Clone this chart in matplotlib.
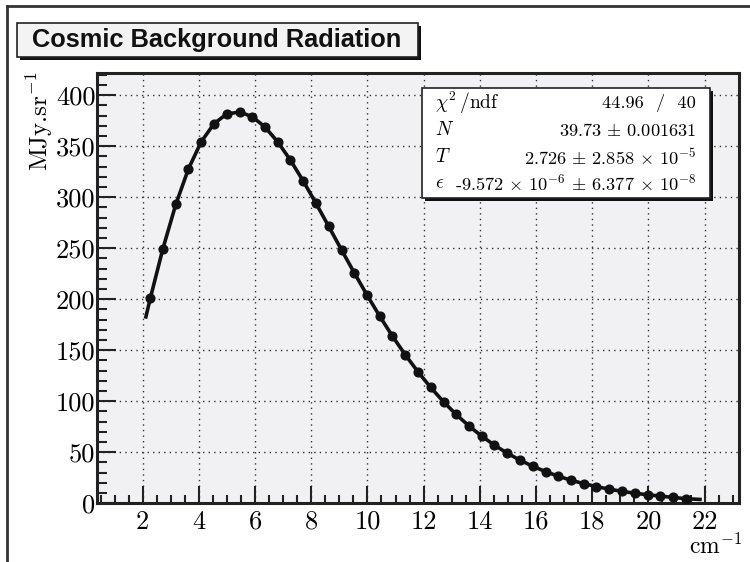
import numpy as np
import matplotlib
matplotlib.use("Agg")
import matplotlib.pyplot as plt
from matplotlib.patches import Rectangle
from matplotlib.lines import Line2D
from matplotlib.ticker import MultipleLocator

# FIRAS monopole spectrum
freq = [2.27, 2.72, 3.18, 3.63, 4.08, 4.54, 4.99, 5.45, 5.90, 6.35, 6.81, 7.26,
        7.71, 8.17, 8.62, 9.08, 9.53, 9.98, 10.44, 10.89, 11.34, 11.80, 12.25,
        12.71, 13.16, 13.61, 14.07, 14.52, 14.97, 15.43, 15.88, 16.34, 16.79,
        17.24, 17.70, 18.15, 18.61, 19.06, 19.51, 19.97, 20.42, 20.87, 21.33]
intensity = [200.723, 249.508, 293.024, 327.770, 354.081, 372.079, 381.493,
             383.478, 378.901, 368.833, 354.063, 336.278, 316.076, 293.924,
             271.432, 248.239, 225.940, 204.327, 183.262, 163.830, 145.750,
             128.835, 113.568, 99.451, 87.036, 75.876, 65.766, 57.008, 49.223,
             42.267, 36.352, 31.062, 26.580, 22.644, 19.255, 16.391, 13.811,
             11.716, 9.921, 8.364, 7.087, 5.801, 4.523]

# fitted curve: data points plus the curve ends
fit_x = [2.1] + freq + [21.9]
fit_y = [181.0] + intensity + [3.7]

stat_names = [r"$\chi^{2}\,/\mathrm{ndf}$", r"$N$", r"$T$", r"$\epsilon$"]
stat_values = [r"44.96  /  40",
               r"39.73$\,\pm\,$0.001631",
               r"2.726$\,\pm\,$2.858$\,\times\,$10$^{\mathrm{-5}}$",
               r"-9.572$\,\times\,$10$^{\mathrm{-6}}$$\,\pm\,$6.377$\,\times\,$10$^{\mathrm{-8}}$"]

plt.rcParams["mathtext.fontset"] = "cm"
plt.rcParams["font.family"] = ["cmr10", "DejaVu Sans"]
plt.rcParams["axes.formatter.use_mathtext"] = True

W, H = 750, 562
fig = plt.figure(figsize=(7.5, 5.62), dpi=100)
fig.patch.set_facecolor("white")

# canvas frame (top and left edges)
fig.add_artist(Line2D([7 / W, 1], [1 - 6 / H, 1 - 6 / H], color="#333333", lw=2))
fig.add_artist(Line2D([7 / W, 7 / W], [0, 1 - 6 / H], color="#333333", lw=2))

ax = fig.add_axes([96.7 / W, 1 - 503.3 / H, 642.6 / W, 430 / H])
ax.set_facecolor("#f1f1f3")
ax.plot(fit_x, fit_y, color="#111111", lw=2.6, zorder=3, solid_capstyle="butt")
ax.plot(freq, intensity, "o", color="#111111", ms=6.3, zorder=4)

ax.set_xlim(0.364, 23.236)
ax.set_ylim(0, 421.4)
ax.xaxis.set_major_locator(MultipleLocator(2))
ax.xaxis.set_minor_locator(MultipleLocator(0.5))
ax.yaxis.set_major_locator(MultipleLocator(50))
ax.yaxis.set_minor_locator(MultipleLocator(10))
ax.tick_params(which="both", direction="in", top=False, right=False,
               color="#222222", width=1.5, labelsize=19)
ax.tick_params(which="major", length=12, pad=5)
ax.tick_params(which="minor", length=6)
ax.tick_params(axis="y", which="major", length=14, pad=1)
ax.tick_params(axis="y", which="minor", length=7)
xt = [t for t in range(2, 23, 2)]
ax.set_xticks(xt)
ax.set_xticklabels([str(t) for t in xt])
yt = list(range(0, 401, 50))
ax.set_yticks(yt)
ax.set_yticklabels([str(t) for t in yt])
ax.grid(True, which="major", color="#333333", lw=1, linestyle=(0, (1, 3)))
ax.set_axisbelow(True)
for s in ax.spines.values():
    s.set_linewidth(2.2)
    s.set_color("#222222")

# axis titles
fig.text(742 / W, 1 - 546 / H, r"cm$^{\mathrm{-1}}$", ha="right", va="center",
         fontsize=17)
fig.text(40 / W, 1 - 72 / H, r"MJy.sr$^{\mathrm{-1}}$", ha="center", va="top",
         rotation=90, fontsize=18)

# title box
fig.add_artist(Rectangle((20 / W, 1 - 60 / H), 401 / W, 34 / H, transform=fig.transFigure,
                         facecolor="#111111", edgecolor="none"))
fig.add_artist(Rectangle((17 / W, 1 - 57 / H), 401 / W, 34 / H, transform=fig.transFigure,
                         facecolor="#f3f3f3", edgecolor="#222222", lw=1.2))
fig.text(217 / W, 1 - 40 / H, "Cosmic Background Radiation", ha="center", va="center",
         family="Liberation Sans", fontweight="bold", fontsize=18.3, color="#111111")

# stats box
fig.add_artist(Rectangle((425 / W, 1 - 201 / H), 288 / W, 110 / H, transform=fig.transFigure,
                         facecolor="#111111", edgecolor="none", zorder=5))
fig.add_artist(Rectangle((422 / W, 1 - 198 / H), 288 / W, 110 / H, transform=fig.transFigure,
                         facecolor="white", edgecolor="#222222", lw=1.2, zorder=6))
row_y = [103, 130, 157, 183]
for name, val, yy in zip(stat_names, stat_values, row_y):
    fig.text(435 / W, 1 - yy / H, name, ha="left", va="center", fontsize=14, zorder=7)
    fig.text(696 / W, 1 - yy / H, val, ha="right", va="center", fontsize=13.2, zorder=7)

fig.savefig("out.png", dpi=100)
